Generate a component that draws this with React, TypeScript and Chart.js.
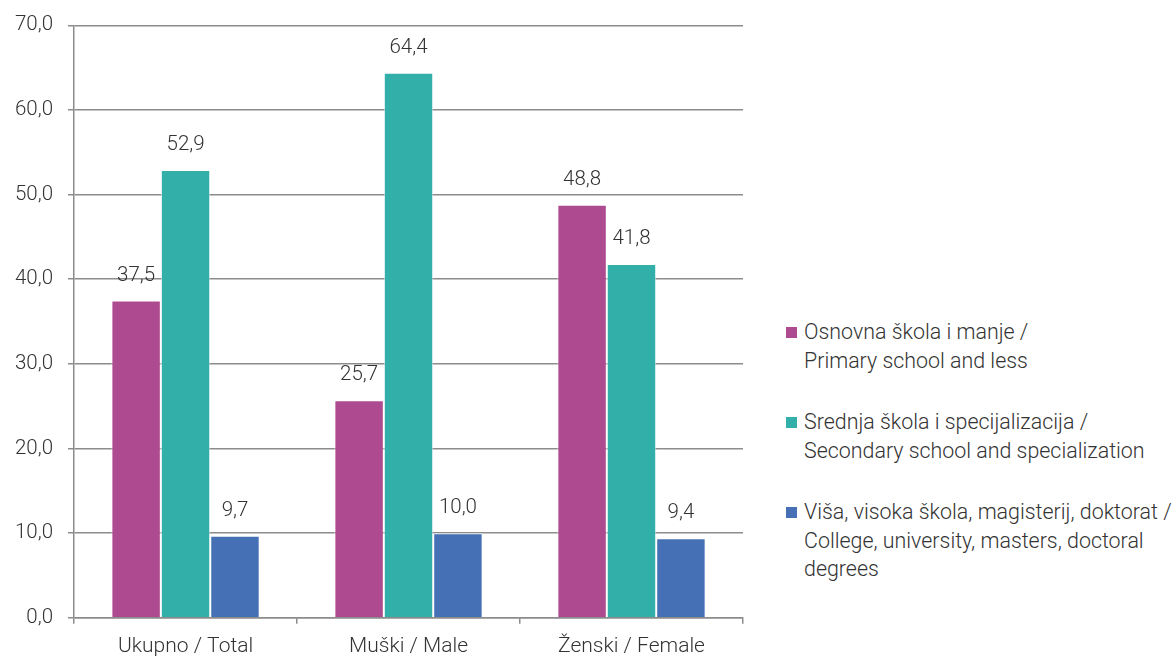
import React, { useEffect, useRef } from "react";
import { Chart, registerables } from "chart.js";

Chart.register(...registerables);

const categories = ["Ukupno / Total", "Muški / Male", "Ženski / Female"];
const primary = [37.5, 25.7, 48.8];
const secondary = [52.9, 64.4, 41.8];
const higher = [9.7, 10.0, 9.4];
const seriesLabels = [
  ["Osnovna škola i manje /", "Primary school and less"],
  ["Srednja škola i specijalizacija /", "Secondary school and specialization"],
  ["Viša, visoka škola, magisterij, doktorat /", "College, university, masters, doctoral", "degrees"],
];
const colors = ["#AE4A8F", "#33AFAA", "#4570B5"];
const yTicks = [0, 10, 20, 30, 40, 50, 60, 70];

const FONT = "Roboto, 'Noto Sans', sans-serif";
const TEXT = "#333333";
const GRID = "#8c8c8c";

const fmt = (v: number) => v.toFixed(1).replace(".", ",");

const labelPlugin = {
  id: "valueLabels",
  afterDatasetsDraw(chart: any) {
    const ctx = chart.ctx;
    ctx.save();
    ctx.font = `300 20.5px ${FONT}`;
    ctx.fillStyle = TEXT;
    ctx.textAlign = "center";
    ctx.textBaseline = "middle";
    chart.data.datasets.forEach((ds: any, i: number) => {
      const meta = chart.getDatasetMeta(i);
      meta.data.forEach((el: any, j: number) => {
        ctx.fillText(fmt(ds.data[j]), el.x, el.y - 25);
      });
    });
    ctx.restore();
  },
};

export default function App() {
  const ref = useRef<HTMLCanvasElement>(null);
  useEffect(() => {
    document.body.style.margin = "0";
    const data = [primary, secondary, higher];
    const chart = new Chart(ref.current!, {
      type: "bar",
      data: {
        labels: categories,
        datasets: data.map((d, i) => ({
          label: seriesLabels[i].join(" "),
          data: d,
          backgroundColor: colors[i],
          borderColor: "rgba(255,255,255,0.6)",
          borderWidth: 1,
          categoryPercentage: 0.665,
          barPercentage: 1.0,
        })),
      },
      options: {
        responsive: false,
        animation: false,
        layout: { padding: { top: 11, right: 2, left: 0, bottom: 2 } },
        plugins: { legend: { display: false }, tooltip: { enabled: false } },
        scales: {
          x: {
            grid: { drawOnChartArea: false, drawTicks: true, tickLength: 6, color: GRID, lineWidth: 1.5, offset: true },
            border: { display: true, color: GRID, width: 1.5 },
            ticks: { color: TEXT, font: { family: FONT, size: 21, weight: 300 as any }, padding: 10 },
          },
          y: {
            min: 0,
            max: 70,
            afterBuildTicks: (axis: any) => {
              axis.ticks = yTicks.map((v) => ({ value: v }));
            },
            grid: { color: GRID, lineWidth: 1.5, tickLength: 6, drawTicks: true },
            border: { display: true, color: GRID, width: 1.5 },
            ticks: {
              color: TEXT,
              font: { family: FONT, size: 20.5, weight: 300 as any },
              padding: 15,
              callback: (v: any) => fmt(Number(v)),
            },
          },
        },
      },
      plugins: [labelPlugin],
    });
    return () => chart.destroy();
  }, []);

  return (
    <div style={{ position: "fixed", left: 0, top: 0, width: 1175, height: 657, overflow: "hidden", background: "#fff", fontFamily: FONT }}>
      <canvas ref={ref} width={745} height={673} style={{ position: "absolute", left: 0, top: -2 }} />
      <div style={{ position: "absolute", left: 786, top: 318, color: TEXT, fontSize: 21.4, fontWeight: 300, lineHeight: "28.5px" }}>
        {seriesLabels.map((lines, i) => (
          <div key={i} style={{ position: "relative", marginBottom: 33, paddingLeft: 18 }}>
            <span style={{ position: "absolute", left: 0, top: 9, width: 11, height: 11, background: colors[i] }} />
            {lines.map((l, k) => (
              <div key={k} style={{ whiteSpace: "nowrap" }}>{l}</div>
            ))}
          </div>
        ))}
      </div>
    </div>
  );
}
